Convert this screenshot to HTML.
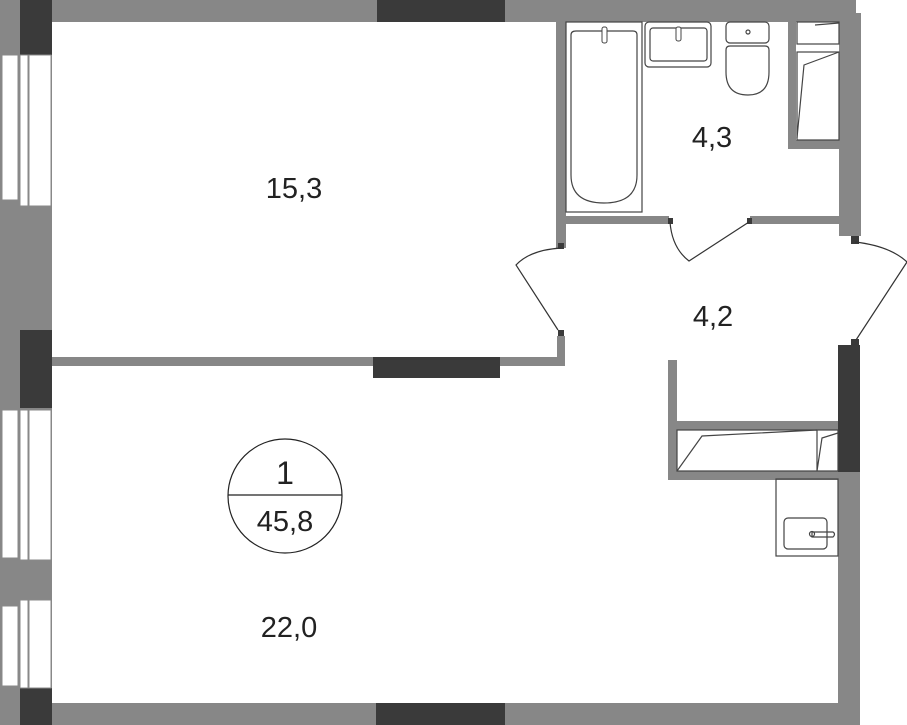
<!DOCTYPE html>
<html><head><meta charset="utf-8"><style>
html,body{margin:0;padding:0;background:#fff;}
svg{display:block}
text{font-family:"Liberation Sans",sans-serif;fill:#222;}
</style></head><body>
<svg width="907" height="725" viewBox="0 0 907 725" xmlns="http://www.w3.org/2000/svg">
<g fill="#878787">
<!-- left outer wall -->
<rect x="0" y="0" width="52" height="725"/>
<!-- top wall -->
<rect x="52" y="0" width="804" height="22"/>
<!-- right wall upper -->
<rect x="839" y="13" width="22" height="223"/>
<!-- right wall lower -->
<rect x="838" y="345" width="22" height="380"/>
<!-- bottom wall -->
<rect x="52" y="703" width="808" height="22"/>
<!-- bathroom left wall -->
<rect x="556" y="22" width="10" height="226"/>
<!-- bathroom bottom wall -->
<rect x="556" y="216" width="113" height="8"/>
<rect x="750" y="216" width="89" height="8"/>
<!-- bathroom closet -->
<rect x="788" y="22" width="8" height="127"/>
<rect x="788" y="140" width="51" height="9"/>
<!-- hall left wall below door -->
<rect x="557" y="336" width="8" height="30"/>
<rect x="52" y="357" width="513" height="9"/>
<!-- closet walls -->
<rect x="668" y="360" width="9" height="120"/>
<rect x="677" y="421" width="161" height="9"/>
<rect x="668" y="471" width="170" height="9"/>
</g>
<g fill="#3a3a3a">
<rect x="20" y="0" width="32" height="55"/>
<rect x="20" y="330" width="32" height="78"/>
<rect x="20" y="688" width="32" height="37"/>
<rect x="377" y="0" width="128" height="22"/>
<rect x="373" y="357" width="127" height="21"/>
<rect x="376" y="703" width="129" height="22"/>
<rect x="838" y="345" width="22" height="127"/>
<rect x="558" y="243" width="6" height="6"/>
<rect x="558" y="330" width="6" height="6"/>
<rect x="668" y="218" width="5" height="6"/>
<rect x="747" y="218" width="5" height="6"/>
<rect x="851" y="236" width="8" height="8"/>
<rect x="851" y="339" width="8" height="7"/>
</g>
<!-- windows -->
<g fill="#fff" stroke="#888" stroke-width="1">
<rect x="2" y="55" width="16" height="145"/>
<rect x="20" y="55" width="8" height="151"/>
<rect x="29" y="55" width="22" height="151"/>
<rect x="2" y="410" width="16" height="148"/>
<rect x="20" y="410" width="8" height="150"/>
<rect x="29" y="410" width="22" height="150"/>
<rect x="2" y="606" width="16" height="80"/>
<rect x="20" y="600" width="8" height="88"/>
<rect x="29" y="600" width="22" height="88"/>
</g>
<!-- doors -->
<g fill="none" stroke="#333" stroke-width="1.2">
<path d="M561 248 Q530 250 516 265 L558 330"/>
<path d="M670 222 Q672 248 689 261 L749 222"/>
<path d="M855 242 Q890 246 907 262 L856 340"/>
</g>
<!-- fixtures -->
<g fill="none" stroke="#444" stroke-width="1.2">
<rect x="566" y="22" width="76" height="190"/>
<path d="M576 31 H633 Q637 31 637 35 V175 Q637 203 604 203 Q571 203 571 175 V35 Q571 31 576 31 Z"/>
<rect x="645" y="22" width="66" height="45" rx="4"/>
<rect x="650" y="28" width="57" height="33" rx="3"/>
<rect x="726" y="22" width="43" height="21" rx="4"/>
<path d="M730 46 H765 Q769 46 769 50 V72 Q769 95 748 95 Q726 95 726 72 V50 Q726 46 730 46 Z"/>
<circle cx="748" cy="32" r="2"/>
<rect x="797" y="22" width="42" height="22"/>
<path d="M815 25 L839 23"/>
<rect x="797" y="52" width="42" height="88"/>
<path d="M797 138 L804 65 L839 52"/>
<rect x="677" y="430" width="161" height="41"/>
<path d="M677 471 L702 436 L817 430 M817 430 V471 M817 471 L822 438 L838 433"/>
<rect x="776" y="479" width="62" height="77"/>
<rect x="784" y="518" width="43" height="31" rx="4"/>
<path d="M812 532 H833 Q836 534 833 537 H812 Z"/>
<circle cx="812" cy="534" r="2.5"/>
</g>
<g fill="#fff" stroke="#444" stroke-width="1">
<rect x="602" y="27" width="5" height="16" rx="2"/>
<rect x="676" y="27" width="5" height="14" rx="2"/>
</g>
<!-- labels -->
<text x="294" y="198" font-size="29" text-anchor="middle">15,3</text>
<text x="712" y="147" font-size="29" text-anchor="middle">4,3</text>
<text x="713" y="326" font-size="29" text-anchor="middle">4,2</text>
<text x="289" y="637" font-size="29" text-anchor="middle">22,0</text>
<circle cx="285" cy="496" r="57" fill="none" stroke="#222" stroke-width="1.2"/>
<line x1="228" y1="495" x2="342" y2="495" stroke="#222" stroke-width="1.2"/>
<text x="285" y="484" font-size="32" text-anchor="middle">1</text>
<text x="285" y="531" font-size="29" text-anchor="middle">45,8</text>
</svg>
</body></html>
